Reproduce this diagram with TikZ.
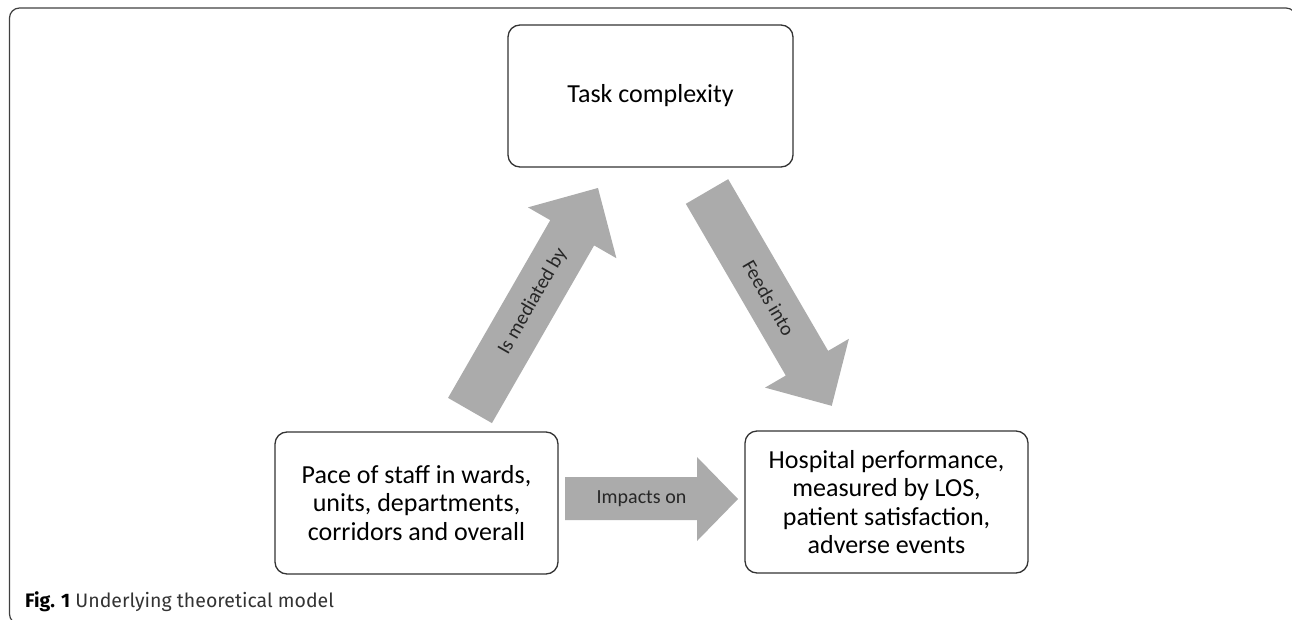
\documentclass[tikz,border=0pt]{standalone}
\usepackage{fontspec}
\setmainfont{Carlito}
\newfontfamily\capfont{Fira Sans}
\begin{document}
\begin{tikzpicture}[x=1pt,y=-1pt,
  box/.style={draw=black!80, line width=1.3pt, rounded corners=12pt, align=center,
    font=\fontsize{26}{28.5}\selectfont, inner sep=0pt},
  blockarrow/.style={fill=black!33, draw=none},
  arrowlabel/.style={font=\fontsize{20}{22}\selectfont, text=black!85, inner sep=0pt},
  frame/.style={draw=black!75, line width=1.2pt, rounded corners=10pt}]
\useasboundingbox (0,0) rectangle (1292,620);
\clip (0,0) rectangle (1292,620);

% outer figure frame
\draw[frame] (9.5,8) rectangle (1296,624);

% concept boxes
\node[box, minimum width=285pt, minimum height=142pt] (task) at (650.5,96) {Task complexity};
\node[box, minimum width=283pt, minimum height=142pt] (pace) at (416.5,503)
  {Pace of staff in wards,\\units, departments,\\corridors and overall};
\node[box, minimum width=283pt, minimum height=142pt] (perf) at (886.5,502)
  {Hospital performance,\\measured by LOS,\\patient satisfaction,\\adverse events};

% block arrow: pace -> task
\begin{scope}[shift={(470,410.5)}, rotate=60.1]
  \fill[blockarrow] (0,-25.3) -- (205,-25.3) -- (205,-51) -- (256.7,0)
    -- (205,51) -- (205,25.3) -- (0,25.3) -- cycle;
  \node[arrowlabel, rotate=60.1] (lmed) at (126,0) {Is mediated by};
\end{scope}

% block arrow: task -> performance
\begin{scope}[shift={(707,191.5)}, rotate=-59.8]
  \fill[blockarrow] (0,-24.5) -- (198.7,-24.5) -- (198.7,-48.5) -- (248,0)
    -- (198.7,48.5) -- (198.7,24.5) -- (0,24.5) -- cycle;
  \node[arrowlabel, rotate=-59.8] (lfeed) at (123,0) {Feeds into};
\end{scope}

% block arrow: pace -> performance
\fill[blockarrow] (565,477) -- (697,477) -- (697,457) -- (738,499)
  -- (697,541) -- (697,520) -- (565,520) -- cycle;
\node[arrowlabel] (limp) at (641.5,498.5) {Impacts on};

% caption
\node[anchor=base west, inner sep=0pt, font=\capfont\fontsize{19.5}{21}\selectfont]
  (cap) at (25,607.5) {\textbf{Fig. 1} \textcolor{black!80}{Underlying theoretical model}};
\end{tikzpicture}
\end{document}
